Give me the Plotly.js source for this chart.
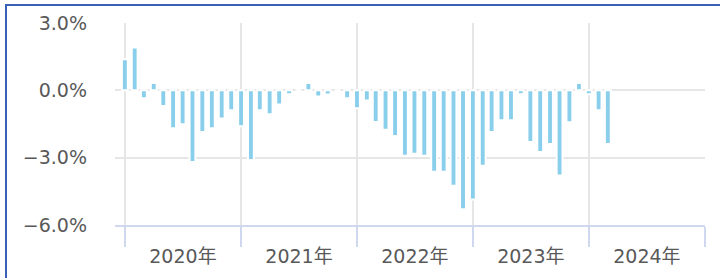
<!DOCTYPE html>
<html>
<head>
<meta charset="utf-8">
<script src="https://cdn.plot.ly/plotly-3.0.1.min.js"></script>
<style>
  html, body { margin: 0; padding: 0; background: #ffffff; }
  #wrap { position: relative; width: 720px; height: 278px; overflow: hidden; }
  #chart { position: absolute; left: 0; top: 0; width: 720px; height: 278px; }
  #frame { position: absolute; left: 5px; top: 4px; width: 800px; height: 400px;
           border-left: 2px solid #3a60b8; border-top: 2px solid #3a60b8; pointer-events: none; }
</style>
</head>
<body>
<div id="wrap">
  <div id="chart"></div>
  <div id="frame"></div>
</div>
<script>
// Monthly periods (bar positions on the date axis)
const months = [
  '2020-01','2020-02','2020-03','2020-04','2020-05','2020-06','2020-07','2020-08','2020-09','2020-10','2020-11','2020-12',
  '2021-01','2021-02','2021-03','2021-04','2021-05','2021-06','2021-07','2021-08','2021-09','2021-10','2021-11','2021-12',
  '2022-01','2022-02','2022-03','2022-04','2022-05','2022-06','2022-07','2022-08','2022-09','2022-10','2022-11','2022-12',
  '2023-01','2023-02','2023-03','2023-04','2023-05','2023-06','2023-07','2023-08','2023-09','2023-10','2023-11','2023-12',
  '2024-01','2024-02','2024-03'
];

// Year-over-year change, percent
const values = [
   1.39,  1.91, -0.35,  0.33, -0.70, -1.69, -1.51, -3.19, -1.86, -1.69, -1.25, -0.89,
  -1.60, -3.10, -0.89, -1.07, -0.63, -0.17,  0.00,  0.33, -0.28, -0.19,  0.00, -0.35,
  -0.80, -0.45, -1.41, -1.76, -2.03, -2.92, -2.83, -2.92, -3.63, -3.63, -4.25, -5.30,
  -4.86, -3.36, -1.86, -1.33, -1.33, -0.17, -2.30, -2.75, -2.39, -3.80, -1.42,  0.33,
  -0.17, -0.89, -2.39
];

// Axis ticks
const yTicks = [-6, -3, 0, 3];
const yTickText = yTicks.map(v => (v < 0 ? '\u2212' : '') + Math.abs(v).toFixed(1) + '%');
const xRange = ['2019-12-01', '2025-01-01'];
const yRange = [-6, 3];

const DAY = 86400000;

const trace = {
  type: 'bar',
  x: months,
  y: values,
  width: months.map(() => 18.5 * DAY),
  marker: { color: '#89cfeb', line: { color: '#ffffff', width: 2 } },
  hoverinfo: 'skip'
};

const gridColor = '#e6e6e6';
const axisBlue = '#cfd8ee';

const layout = {
  width: 720,
  height: 278,
  margin: { l: 115, r: 15, t: 23, b: 53, pad: 0 },
  paper_bgcolor: '#ffffff',
  plot_bgcolor: '#ffffff',
  showlegend: false,
  font: { family: 'DejaVu Sans, "Noto Sans CJK JP", sans-serif', size: 19, color: '#595959' },
  xaxis: {
    type: 'date',
    range: xRange,
    tick0: '2020-01-01',
    dtick: 'M12',
    tickformat: '%Y年',
    ticklabelmode: 'period',
    ticklabelstandoff: -7,
    showgrid: true,
    gridcolor: gridColor,
    gridwidth: 2,
    showline: true,
    linecolor: axisBlue,
    linewidth: 2,
    ticks: 'outside',
    ticklen: 20,
    tickwidth: 2,
    tickcolor: axisBlue,
    zeroline: false,
    fixedrange: true
  },
  yaxis: {
    range: yRange,
    tickmode: 'array',
    tickvals: yTicks,
    ticktext: yTickText,
    showgrid: true,
    gridcolor: gridColor,
    gridwidth: 2,
    zeroline: false,
    showline: false,
    ticks: '',
    ticklabelstandoff: 27,
    fixedrange: true
  }
};

Plotly.newPlot('chart', [trace], layout, { displayModeBar: false, staticPlot: true });
</script>
</body>
</html>
